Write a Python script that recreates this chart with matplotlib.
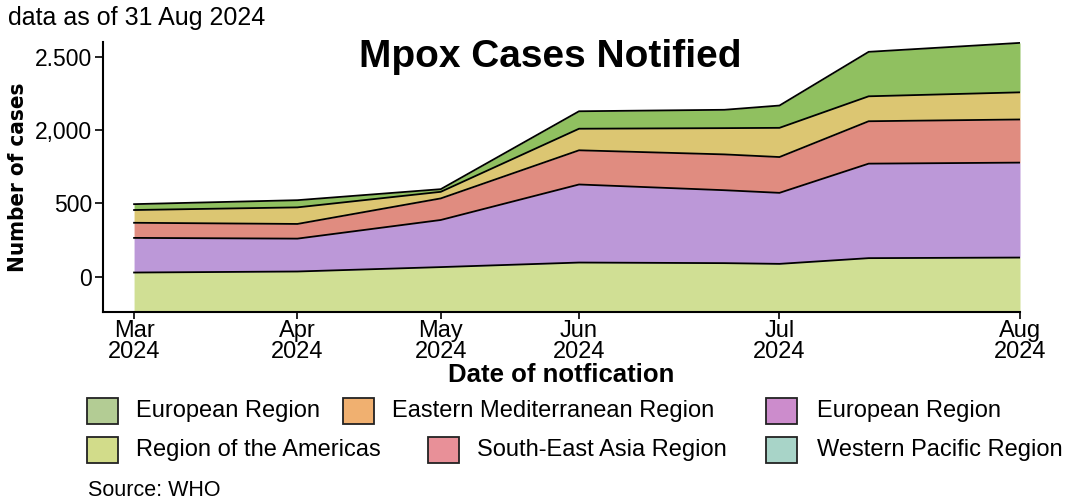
import numpy as np
import matplotlib
matplotlib.use("Agg")
import matplotlib.pyplot as plt
from matplotlib.patches import Rectangle

# x positions (axis units, Mar = 0) of the notification points
x_pts = [0, 163, 306, 444, 589, 644, 733, 884]
month_ticks = [0, 163, 306, 444, 644, 884]
month_labels = ["Mar\n2024", "Apr\n2024", "May\n2024", "Jun\n2024", "Jul\n2024", "Aug\n2024"]

# layers, bottom to top
americas = [29, 36, 66, 97, 93, 88, 127, 131]
european = [236, 224, 321, 532, 497, 484, 644, 647]
se_asia = [103, 100, 147, 233, 244, 244, 289, 294]
east_med = [87, 113, 45, 147, 179, 199, 170, 185]
europe_top = [40, 49, 18, 119, 125, 152, 303, 337]

y_ticks = [0, 500, 1000, 1500]
y_labels = ["0", "500", "2,000", "2.500"]

layers = [americas, european, se_asia, east_med, europe_top]
fill_cols = ["#d0df94", "#bc98d8", "#e08c80", "#dcc672", "#90c060"]

leg_names = ["European Region", "Eastern Mediterranean Region", "European Region",
             "Region of the Americas", "South-East Asia Region", "Western Pacific Region"]
leg_cols = ["#b3cc94", "#f0b070", "#cc8ccc", "#d2dc8a", "#e89098", "#a8d4c8"]

plt.rcParams['font.family'] = ['Liberation Sans', 'DejaVu Sans']

W, H = 1071, 503
fig = plt.figure(figsize=(W / 100, H / 100), dpi=100)
ax = fig.add_axes([103 / W, 1 - 312 / H, (1020 - 103) / W, (312 - 42) / H])

ymin = -240
x = np.array(x_pts)
base = np.full(len(x), ymin, dtype=float)
cum = np.zeros(len(x))
for i, (vals, c) in enumerate(zip(layers, fill_cols)):
    top = cum + np.array(vals)
    lower = base if i == 0 else cum
    ax.fill_between(x, lower, top, color=c, lw=0)
    ax.plot(x, top, color="black", lw=1.3)
    cum = top

ax.set_xlim(-31, 884)
ax.set_ylim(ymin, 1600)
ax.set_yticks(y_ticks)
ax.set_yticklabels(y_labels, fontsize=16.5)
ax.set_xticks(month_ticks)
ax.set_xticklabels(month_labels, fontsize=17, linespacing=0.92)
for s in ["top", "right"]:
    ax.spines[s].set_visible(False)
for s in ["left", "bottom"]:
    ax.spines[s].set_linewidth(1.5)
ax.tick_params(axis="y", length=6, width=1.2, pad=2)
ax.tick_params(axis="x", length=5, width=1.2, pad=1)
ax.set_ylabel("Number of cases", fontsize=16, family="DejaVu Sans", fontweight="bold",
              fontstretch="condensed", labelpad=5)
ax.set_xlabel("Date of notfication", fontsize=18.5, fontweight="bold", labelpad=0)

fig.text(8 / W, 1 - 18 / H, "data as of 31 Aug 2024", fontsize=18, va="center", ha="left")
fig.text(550 / W, 1 - 57 / H, "Mpox Cases Notified", fontsize=28, fontweight="bold",
         va="center", ha="center")

# legend drawn by hand: two rows, entries placed like the original
box_x = [87, 343, 766, 87, 428, 766]
text_x = [136, 392, 817, 136, 477, 817]
row_y = [411, 411, 411, 450, 450, 450]
bw, bh = 31, 26
for name, c, bx, tx, ry in zip(leg_names, leg_cols, box_x, text_x, row_y):
    fig.patches.append(Rectangle((bx / W, 1 - (ry + bh / 2) / H), bw / W, bh / H,
                                 transform=fig.transFigure, facecolor=c,
                                 edgecolor="#222222", lw=1.3))
    fig.text(tx / W, 1 - ry / H, name, fontsize=17, va="center", ha="left")

fig.text(88 / W, 1 - 490 / H, "Source: WHO", fontsize=15.5, va="center", ha="left")

fig.savefig("out.png", dpi=100)
